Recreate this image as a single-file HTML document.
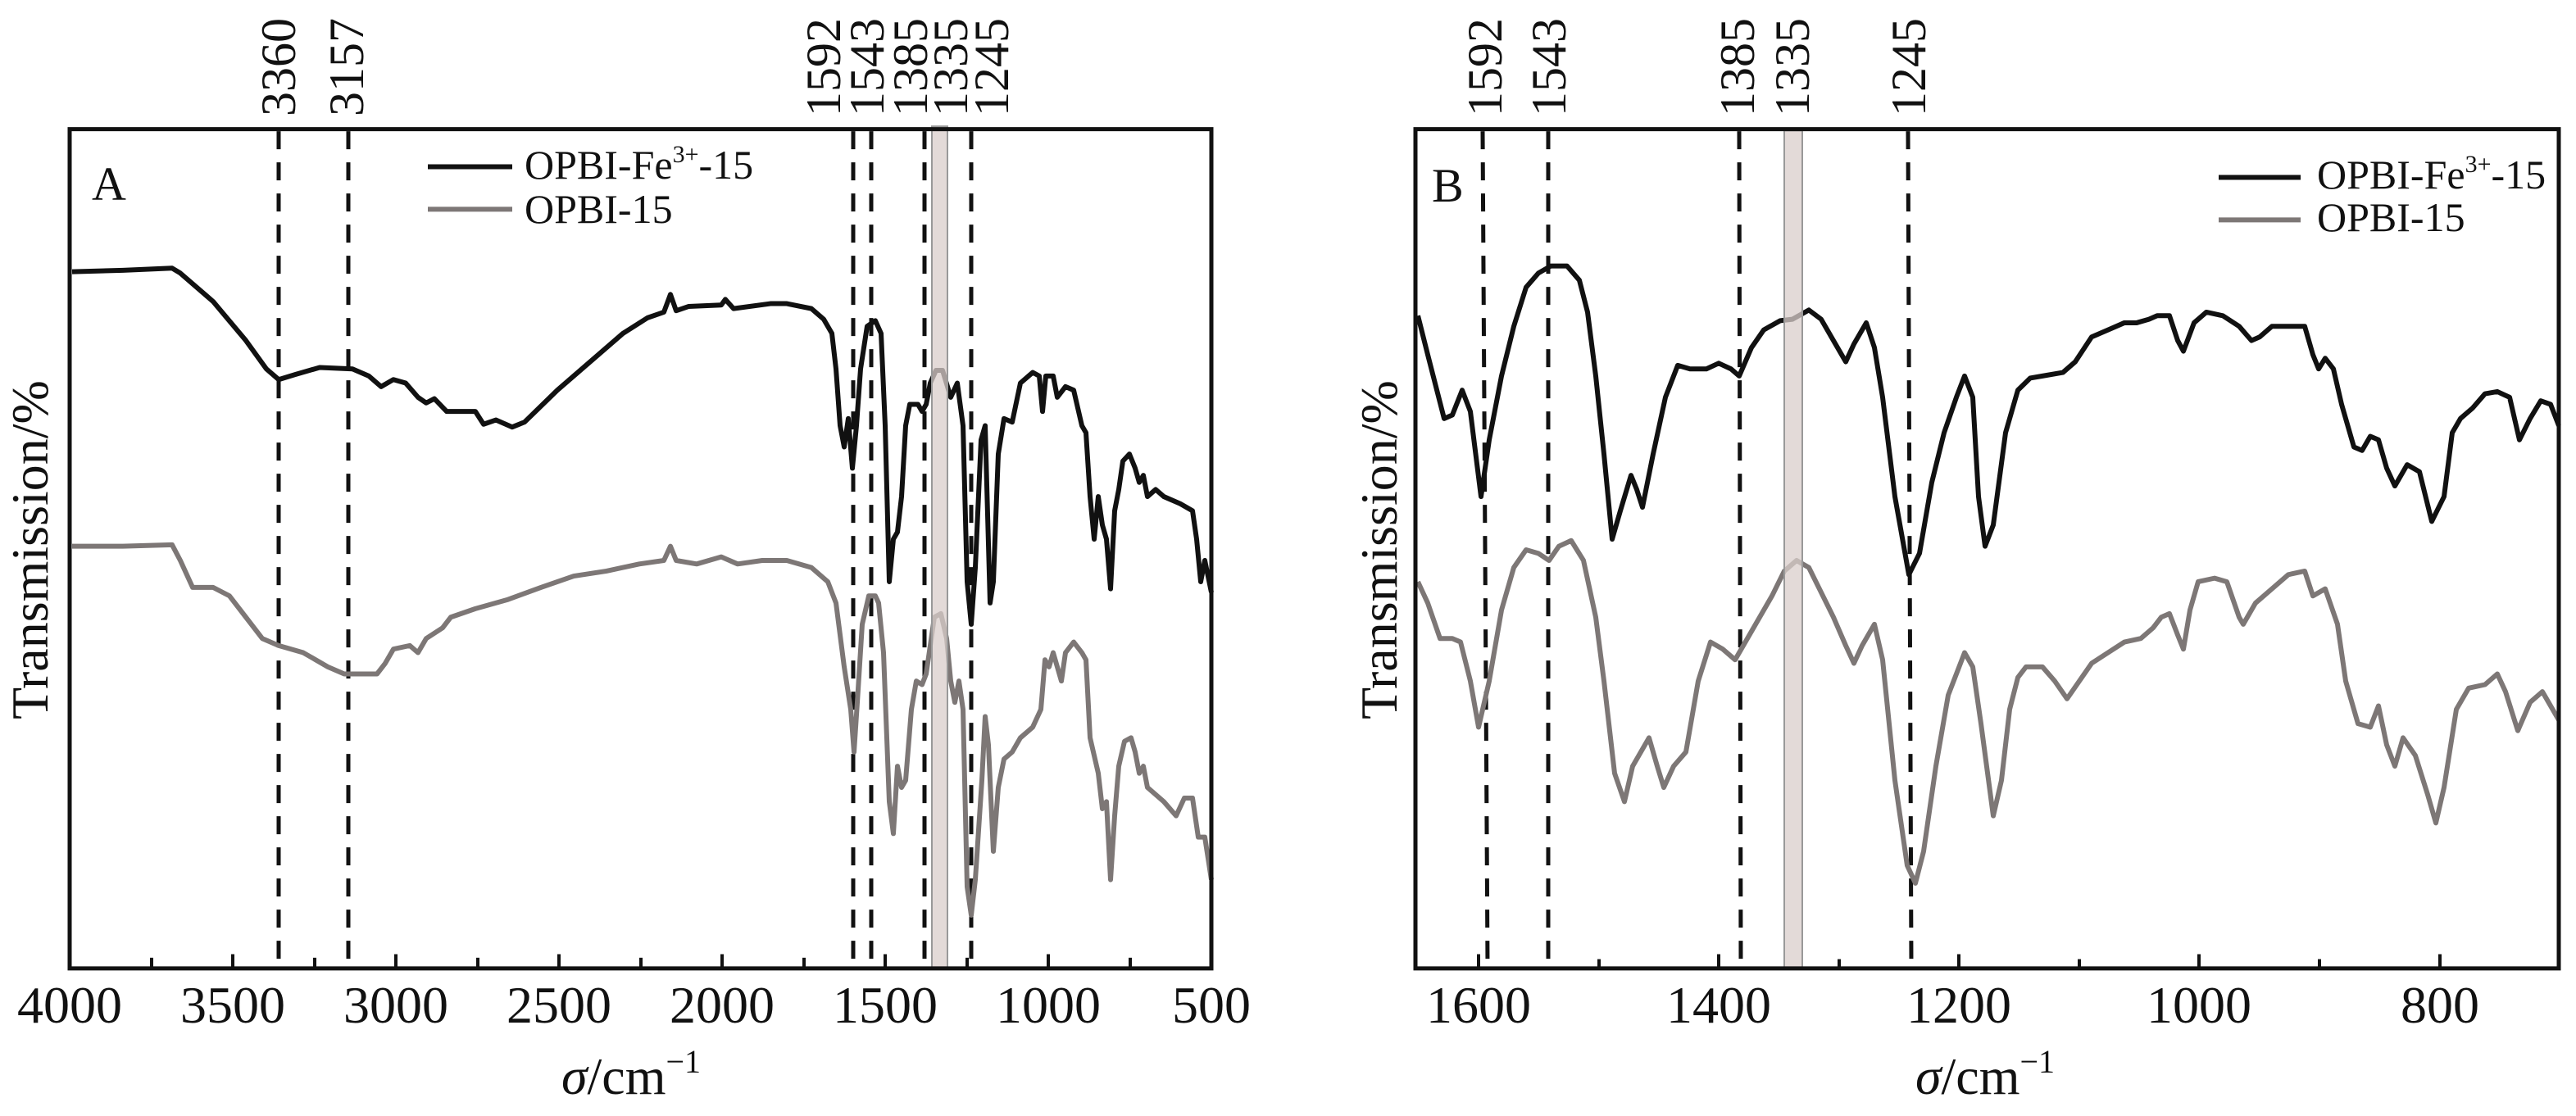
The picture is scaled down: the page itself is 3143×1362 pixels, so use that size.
<!DOCTYPE html>
<html><head><meta charset="utf-8"><style>
html,body{margin:0;padding:0;background:#fff;}
svg{display:block;}
text{font-family:"Liberation Serif",serif;fill:#111;}
</style></head><body>
<svg width="3143" height="1362" viewBox="0 0 3143 1362" xmlns="http://www.w3.org/2000/svg">
<g transform="scale(1,0.8658)" fill="none">
  <g stroke="#111" stroke-width="5" stroke-dasharray="22,16">
    <line x1="340" y1="185" x2="340" y2="1362" vector-effect="non-scaling-stroke"/>
    <line x1="425" y1="185" x2="425" y2="1362" vector-effect="non-scaling-stroke"/>
    <line x1="1041" y1="185" x2="1041" y2="1362" vector-effect="non-scaling-stroke"/>
    <line x1="1063" y1="185" x2="1063" y2="1362" vector-effect="non-scaling-stroke"/>
    <line x1="1128" y1="185" x2="1128" y2="1362" vector-effect="non-scaling-stroke"/>
    <line x1="1185" y1="185" x2="1185" y2="1362" vector-effect="non-scaling-stroke"/>
  </g>
  <polyline stroke="#111" stroke-width="6" stroke-linejoin="round" vector-effect="non-scaling-stroke" points="88,383 150,381 210,378 220,385 260,425 300,480 325,520 340,535 360,528 390,518 430,520 450,530 465,545 480,535 495,540 510,560 520,568 530,562 545,580 580,580 590,598 605,592 625,602 640,595 680,550 720,510 760,470 790,448 810,440 818,415 825,438 840,432 880,430 885,422 895,435 940,428 960,428 990,435 1005,450 1015,470 1020,520 1025,600 1030,630 1035,590 1040,660 1045,600 1050,520 1058,460 1068,452 1075,470 1080,600 1085,820 1090,760 1095,750 1100,700 1105,600 1110,570 1120,570 1125,580 1130,570 1135,540 1142,522 1150,522 1160,560 1168,540 1175,600 1180,820 1185,880 1190,800 1197,620 1202,600 1208,850 1212,820 1218,640 1225,590 1235,595 1245,540 1260,525 1268,530 1272,580 1276,530 1285,530 1290,560 1300,545 1310,550 1320,600 1325,610 1330,700 1335,760 1340,700 1345,740 1350,760 1355,830 1360,720 1365,690 1370,650 1378,640 1385,660 1390,680 1395,670 1400,700 1410,690 1420,700 1440,710 1455,720 1460,760 1465,820 1470,790 1478,835"/>
  <polyline stroke="#7d7776" stroke-width="6" stroke-linejoin="round" vector-effect="non-scaling-stroke" points="88,770 150,770 210,768 220,790 235,828 260,828 280,840 300,870 320,900 340,910 370,920 400,940 420,950 460,950 470,935 480,915 500,910 510,920 520,900 540,885 550,870 580,858 620,845 660,828 700,812 740,805 780,795 810,790 818,770 825,790 850,795 880,785 900,795 930,790 960,790 990,800 1010,820 1020,850 1030,940 1038,1000 1042,1060 1046,990 1052,880 1060,840 1068,840 1072,850 1078,920 1085,1130 1090,1175 1095,1080 1100,1110 1105,1100 1112,1000 1118,960 1125,965 1130,950 1140,870 1148,865 1155,900 1160,960 1165,990 1170,960 1175,1000 1180,1250 1185,1290 1190,1240 1198,1100 1202,1010 1206,1050 1212,1200 1218,1110 1225,1070 1235,1060 1245,1040 1260,1025 1270,1000 1275,930 1280,940 1285,920 1295,960 1300,920 1310,905 1320,920 1325,930 1330,1040 1340,1090 1345,1140 1350,1130 1355,1240 1360,1150 1365,1080 1372,1045 1380,1040 1385,1060 1390,1090 1395,1080 1400,1110 1420,1130 1435,1150 1445,1125 1455,1125 1462,1180 1470,1180 1478,1240"/>
  <rect x="1137" y="178" width="19" height="1187" fill="#d9cdcb" fill-opacity="0.75" stroke="#999" stroke-width="2" vector-effect="non-scaling-stroke"/>
  <line x1="522" y1="235" x2="625" y2="235" stroke="#111" stroke-width="6" vector-effect="non-scaling-stroke"/>
  <line x1="522" y1="295" x2="625" y2="295" stroke="#7d7776" stroke-width="6" vector-effect="non-scaling-stroke"/>
  <g stroke="#111" stroke-width="4">
    <line x1="185" y1="1365" x2="185" y2="1350" vector-effect="non-scaling-stroke"/>
    <line x1="284" y1="1365" x2="284" y2="1345" vector-effect="non-scaling-stroke"/>
    <line x1="384" y1="1365" x2="384" y2="1350" vector-effect="non-scaling-stroke"/>
    <line x1="483" y1="1365" x2="483" y2="1345" vector-effect="non-scaling-stroke"/>
    <line x1="583" y1="1365" x2="583" y2="1350" vector-effect="non-scaling-stroke"/>
    <line x1="682" y1="1365" x2="682" y2="1345" vector-effect="non-scaling-stroke"/>
    <line x1="782" y1="1365" x2="782" y2="1350" vector-effect="non-scaling-stroke"/>
    <line x1="881" y1="1365" x2="881" y2="1345" vector-effect="non-scaling-stroke"/>
    <line x1="981" y1="1365" x2="981" y2="1350" vector-effect="non-scaling-stroke"/>
    <line x1="1080" y1="1365" x2="1080" y2="1345" vector-effect="non-scaling-stroke"/>
    <line x1="1180" y1="1365" x2="1180" y2="1350" vector-effect="non-scaling-stroke"/>
    <line x1="1279" y1="1365" x2="1279" y2="1345" vector-effect="non-scaling-stroke"/>
    <line x1="1379" y1="1365" x2="1379" y2="1350" vector-effect="non-scaling-stroke"/>
  </g>
  <rect x="85" y="182" width="1393" height="1183" stroke="#111" stroke-width="5" vector-effect="non-scaling-stroke"/>
</g>

<g transform="translate(1572,0) scale(1,0.8658)" fill="none">
  <g stroke="#111" stroke-width="5" stroke-dasharray="22,16">
    <line x1="237" y1="185" x2="243" y2="1362" vector-effect="non-scaling-stroke"/>
    <line x1="317" y1="185" x2="317" y2="1362" vector-effect="non-scaling-stroke"/>
    <line x1="550" y1="185" x2="552" y2="1362" vector-effect="non-scaling-stroke"/>
    <line x1="756" y1="185" x2="760" y2="1362" vector-effect="non-scaling-stroke"/>
  </g>
  <polyline stroke="#111" stroke-width="6" stroke-linejoin="round" vector-effect="non-scaling-stroke" points="158,445 170,500 190,590 200,585 212,550 222,580 235,700 245,620 260,530 275,460 290,405 305,385 320,375 340,375 355,395 365,440 375,530 385,640 395,760 405,720 418,670 425,690 432,715 445,640 460,560 475,515 490,520 510,520 525,512 540,520 550,530 565,490 580,465 600,452 615,450 635,437 650,450 665,480 680,510 690,485 705,455 715,490 725,560 740,700 757,810 770,780 785,680 800,610 815,560 825,530 835,560 842,700 850,770 860,740 875,610 890,550 905,533 920,530 945,525 960,510 980,475 1000,465 1020,455 1035,455 1050,450 1060,445 1075,445 1085,480 1092,495 1105,455 1120,440 1140,445 1160,460 1175,480 1185,475 1200,460 1240,460 1250,500 1257,520 1265,505 1275,520 1285,570 1300,630 1310,635 1320,615 1330,620 1340,660 1350,685 1365,655 1380,665 1395,735 1410,700 1420,610 1430,590 1445,575 1460,555 1475,552 1490,560 1502,620 1515,590 1528,565 1540,570 1550,600"/>
  <polyline stroke="#7d7776" stroke-width="6" stroke-linejoin="round" vector-effect="non-scaling-stroke" points="158,820 170,850 185,900 200,900 210,905 222,960 232,1025 245,960 260,860 275,800 290,775 305,780 318,790 330,770 345,762 360,790 375,870 385,960 398,1090 410,1130 420,1080 430,1060 440,1040 450,1080 458,1110 470,1080 485,1060 500,960 515,905 530,915 545,930 560,900 575,870 590,840 605,805 620,790 635,800 650,835 665,870 680,910 690,935 700,910 715,880 725,930 740,1100 755,1220 765,1245 775,1200 790,1080 805,980 825,920 835,940 845,1020 860,1150 870,1100 880,1000 890,955 900,940 920,940 935,960 950,985 965,960 980,935 1000,920 1020,905 1040,900 1055,885 1065,870 1075,865 1085,895 1092,915 1100,860 1110,820 1130,815 1145,820 1160,870 1165,880 1180,850 1200,830 1220,810 1240,805 1250,840 1265,830 1280,880 1290,960 1305,1020 1320,1025 1330,995 1340,1050 1350,1080 1360,1040 1375,1065 1390,1120 1400,1160 1410,1110 1425,1000 1440,970 1460,965 1475,950 1485,975 1500,1030 1515,990 1530,975 1550,1015"/>
  <rect x="605" y="184" width="22" height="1180" fill="#d9cdcb" fill-opacity="0.75" stroke="#999" stroke-width="2" vector-effect="non-scaling-stroke"/>
  <line x1="1135" y1="250" x2="1235" y2="250" stroke="#111" stroke-width="6" vector-effect="non-scaling-stroke"/>
  <line x1="1135" y1="310" x2="1235" y2="310" stroke="#7d7776" stroke-width="6" vector-effect="non-scaling-stroke"/>
  <g stroke="#111" stroke-width="4">
    <line x1="232" y1="1365" x2="232" y2="1345" vector-effect="non-scaling-stroke"/>
    <line x1="379" y1="1365" x2="379" y2="1352" vector-effect="non-scaling-stroke"/>
    <line x1="525" y1="1365" x2="525" y2="1345" vector-effect="non-scaling-stroke"/>
    <line x1="672" y1="1365" x2="672" y2="1352" vector-effect="non-scaling-stroke"/>
    <line x1="818" y1="1365" x2="818" y2="1345" vector-effect="non-scaling-stroke"/>
    <line x1="965" y1="1365" x2="965" y2="1352" vector-effect="non-scaling-stroke"/>
    <line x1="1111" y1="1365" x2="1111" y2="1345" vector-effect="non-scaling-stroke"/>
    <line x1="1258" y1="1365" x2="1258" y2="1352" vector-effect="non-scaling-stroke"/>
    <line x1="1405" y1="1365" x2="1405" y2="1345" vector-effect="non-scaling-stroke"/>
  </g>
  <rect x="155" y="182" width="1395" height="1183" stroke="#111" stroke-width="5" vector-effect="non-scaling-stroke"/>
</g>

<g font-size="64" text-anchor="middle">
  <text x="85" y="1248">4000</text>
  <text x="284" y="1248">3500</text>
  <text x="483" y="1248">3000</text>
  <text x="682" y="1248">2500</text>
  <text x="881" y="1248">2000</text>
  <text x="1080" y="1248">1500</text>
  <text x="1279" y="1248">1000</text>
  <text x="1478" y="1248">500</text>
  <text x="1804" y="1248">1600</text>
  <text x="2097" y="1248">1400</text>
  <text x="2390" y="1248">1200</text>
  <text x="2683" y="1248">1000</text>
  <text x="2977" y="1248">800</text>
</g>
<text x="770" y="1335" font-size="64" text-anchor="middle"><tspan font-style="italic">σ</tspan>/cm<tspan font-size="40" dy="-26">−1</tspan></text>
<text x="2422" y="1335" font-size="64" text-anchor="middle"><tspan font-style="italic">σ</tspan>/cm<tspan font-size="40" dy="-26">−1</tspan></text>
<text transform="translate(58,671) rotate(-90)" font-size="64" text-anchor="middle">Transmission/%</text>
<text transform="translate(1704,671) rotate(-90)" font-size="64" text-anchor="middle">Transmission/%</text>
<g font-size="60" text-anchor="start">
  <text transform="translate(360,142) rotate(-90)">3360</text>
  <text transform="translate(443,142) rotate(-90)">3157</text>
  <text transform="translate(1025,142) rotate(-90)">1592</text>
  <text transform="translate(1078,142) rotate(-90)">1543</text>
  <text transform="translate(1131,142) rotate(-90)">1385</text>
  <text transform="translate(1180,142) rotate(-90)">1335</text>
  <text transform="translate(1230,142) rotate(-90)">1245</text>
  <text transform="translate(1832,142) rotate(-90)">1592</text>
  <text transform="translate(1910,142) rotate(-90)">1543</text>
  <text transform="translate(2140,142) rotate(-90)">1385</text>
  <text transform="translate(2207,142) rotate(-90)">1335</text>
  <text transform="translate(2349,142) rotate(-90)">1245</text>
</g>
<text x="112" y="244" font-size="58">A</text>
<text x="1747" y="246" font-size="58">B</text>
<g font-size="50">
  <text x="640" y="218">OPBI-Fe<tspan font-size="30" dy="-20">3+</tspan><tspan dy="20">-15</tspan></text>
  <text x="640" y="272">OPBI-15</text>
  <text x="2827" y="230">OPBI-Fe<tspan font-size="30" dy="-20">3+</tspan><tspan dy="20">-15</tspan></text>
  <text x="2827" y="282">OPBI-15</text>
</g>
</svg>
</body></html>
